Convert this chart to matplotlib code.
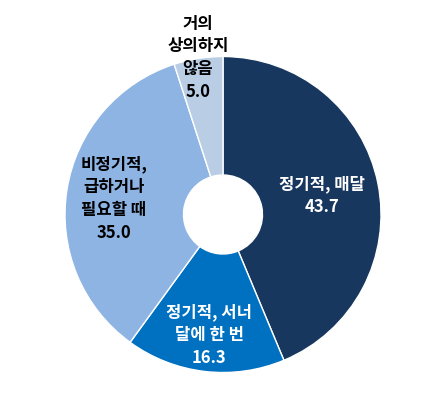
import matplotlib.pyplot as plt
import numpy as np

# 한글 표시용 폰트
plt.rcParams['font.family'] = ['Noto Sans CJK KR', 'DejaVu Sans']

labels = ['정기적, 매달', '정기적, 서너\n달에 한 번', '비정기적,\n급하거나\n필요할 때', '거의\n상의하지\n않음']
values = [43.7, 16.3, 35.0, 5.0]
colors = ['#17375E', '#0070C0', '#8EB4E3', '#B9CDE5']
text_colors = ['white', 'white', 'black', 'black']
# 라벨이 놓일 반지름 (중심에서의 거리)
label_r = [0.64, 0.76, 0.70, 1.01]

W, H = 437, 414
cx, cy, R = 223, 198.5, 158  # 픽셀 기준 중심/반지름 (아래에서)

fig = plt.figure(figsize=(W / 100, H / 100), dpi=100, facecolor='white')
ax = fig.add_axes([(cx - R) / W, (cy - R) / H, 2 * R / W, 2 * R / H])

wedges, _ = ax.pie(values, colors=colors, startangle=90, counterclock=False,
                   radius=1.0, wedgeprops=dict(width=0.75, edgecolor='white', linewidth=1.0))
ax.set_xlim(-1, 1)
ax.set_ylim(-1, 1)
ax.axis('off')

for w, lab, v, tc, r in zip(wedges, labels, values, text_colors, label_r):
    ang = np.deg2rad((w.theta1 + w.theta2) / 2.0)
    ax.text(r * np.cos(ang), r * np.sin(ang), '%s\n%.1f' % (lab, v),
            ha='center', va='center', color=tc, fontsize=12, fontweight='bold',
            linespacing=1.35, clip_on=False)

fig.savefig('out.png', dpi=100, facecolor='white')
